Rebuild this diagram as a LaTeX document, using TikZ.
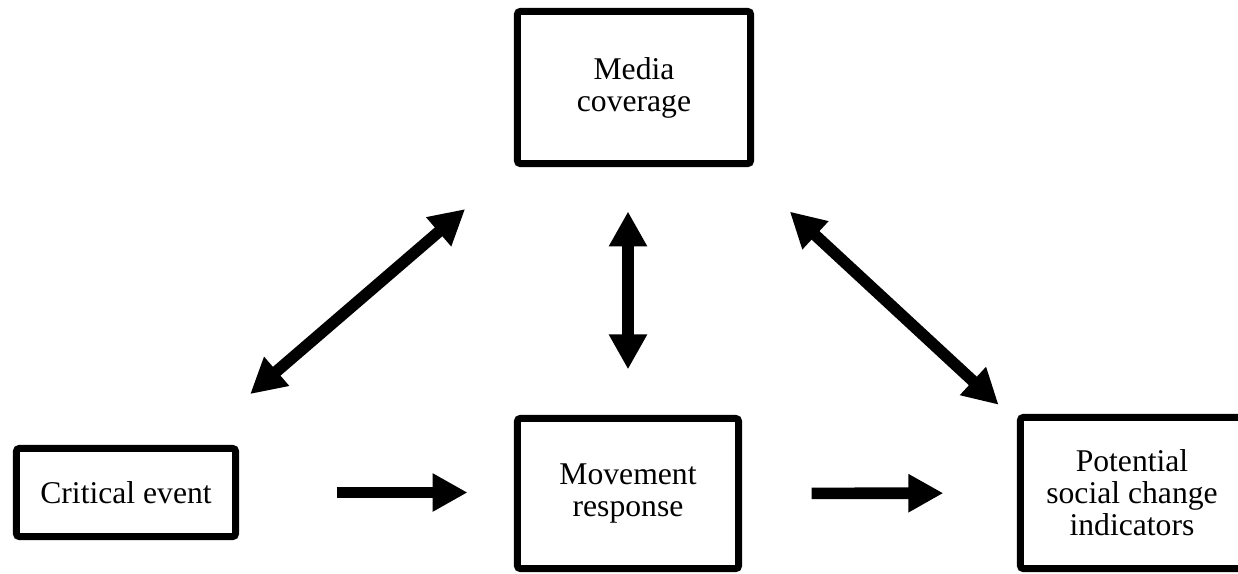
\documentclass[tikz,border=0pt]{standalone}
\usepackage{fontspec}
\setmainfont{Liberation Serif}
\usetikzlibrary{arrows.meta}

\begin{document}
\begin{tikzpicture}[x=0.025cm, y=-0.025cm,
        >={Triangle[length=0.875cm, width=0.9cm]},
        box/.style={rectangle, draw, line width=0.175cm, rounded corners=2pt, inner sep=0pt, text centered, align=center, font=\fontsize{22.5}{22.8}\selectfont},
        link/.style={line width=0.29cm}]
        \useasboundingbox (0,0) rectangle (1238,573);

        \node (media) [box, minimum width=5.825cm, minimum height=3.8cm] at (634,87.5) {Media\\coverage};
        \node (crit) [box, minimum width=5.475cm, minimum height=2.2cm] at (126,492.5) {Critical event};
        \node (move) [box, minimum width=5.525cm, minimum height=3.75cm] at (628,493.5) {Movement\\response};
        \node (pot) [box, minimum width=5.575cm, minimum height=3.775cm] at (1132,493) {Potential\\social change\\indicators};

        \draw[link, ->, shorten <=2.44cm, shorten >=1.16cm] (crit.east) -- (crit.east -| move.west);
        \draw[link, ->, shorten <=1.74cm, shorten >=1.84cm] (move.east) -- (pot.west);
        \draw[link, <->, shorten <=1.11cm, shorten >=1.14cm] (move.north |- media.south) -- (move.north);
        \draw[link, <->, shorten <=1.95cm, shorten >=1.61cm] ([xshift=-1.2cm]crit.north east) -- (media.south west);
        \draw[link, <->, shorten <=1.64cm, shorten >=0.34cm] ([xshift=-0.31cm]media.south east) -- ([xshift=-0.21cm]pot.north west);
    \end{tikzpicture}
\end{document}
